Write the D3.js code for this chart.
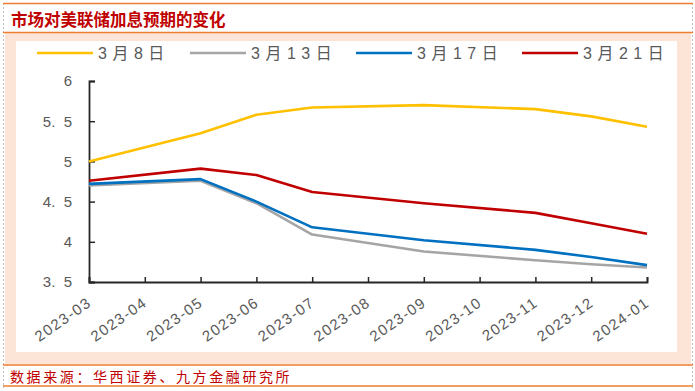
<!DOCTYPE html>
<html><head><meta charset="utf-8">
<script src="https://cdn.jsdelivr.net/npm/d3@7"></script>
<style>
html,body{margin:0;padding:0;background:#fff;}
svg{display:block;}
text{font-family:"Liberation Sans",Arial,"Noto Sans CJK SC",sans-serif;}
</style></head>
<body><svg id="c" width="695" height="391"></svg>
<script>
const categories = ["2023-03","2023-04","2023-05","2023-06","2023-07","2023-08","2023-09","2023-10","2023-11","2023-12","2024-01"];
const seriesNames = ["3月8日","3月13日","3月17日","3月21日"];
const seriesColors = ["#FFC000","#A5A5A5","#0070C0","#C00000"];
const mar8  = [5.00, null, 5.35, 5.58, 5.67, null, 5.70, null, 5.65, 5.56, 5.43];
const mar13 = [4.70, null, 4.76, 4.48, 4.09, null, 3.88, null, 3.77, 3.72, 3.68];
const mar17 = [4.72, null, 4.78, 4.50, 4.18, null, 4.02, null, 3.90, 3.81, 3.71];
const mar21 = [4.76, null, 4.91, 4.83, 4.62, null, 4.48, null, 4.36, 4.23, 4.10];
const yTicks = [3.5, 4, 4.5, 5, 5.5, 6];
const title = "市场对美联储加息预期的变化";
const source = "数据来源：华西证券、九方金融研究所";

const series = [mar8, mar13, mar17, mar21];
const svg = d3.select("#c");

// frame
svg.append("rect").attr("x",5).attr("y",33).attr("width",686).attr("height",331).attr("fill","#FCE4D6");
svg.append("rect").attr("x",16).attr("y",41).attr("width",661).attr("height",311).attr("fill","#fff");
svg.append("line").attr("x1",3.5).attr("x2",3.5).attr("y1",3).attr("y2",388).attr("stroke","#BFBFBF").attr("stroke-dasharray","2,2");
svg.append("line").attr("x1",692.5).attr("x2",692.5).attr("y1",3).attr("y2",388).attr("stroke","#BFBFBF").attr("stroke-dasharray","2,2");
[3.5,32.5,365,386].forEach(yy=>{
  svg.append("line").attr("x1",3).attr("x2",693).attr("y1",yy).attr("y2",yy).attr("stroke","#ED7D31").attr("stroke-width",1.5);
});
svg.append("text").attr("x",11).attr("y",26).attr("fill","#C00000").attr("font-size",16.5).attr("font-weight","bold")
  .style("font-family","'Noto Sans CJK SC',sans-serif").text(title);
svg.append("text").attr("x",10).attr("y",382).attr("fill","#C00000").attr("font-size",14).attr("letter-spacing",2.6)
  .style("font-family","'Noto Sans CJK SC',sans-serif").text(source);

// scales
const x = d3.scalePoint().domain(categories).range([89, 647]);
const y = d3.scaleLinear().domain([3.5, 6]).range([282, 81]);

// y axis
const ya = svg.append("g").attr("transform","translate(89,0)")
  .call(d3.axisLeft(y).tickValues(yTicks).tickSize(-6).tickPadding(17)
    .tickFormat(d => Number.isInteger(d) ? String(d) : d.toFixed(1).replace(".", ".  ")));
ya.select(".domain").attr("stroke","#262626").attr("stroke-width",1.8);
ya.selectAll(".tick line").attr("stroke","#262626").attr("stroke-width",1.5);
ya.selectAll(".tick text").attr("fill","#595959").attr("font-size",15).style("white-space","pre");

// x axis
const xa = svg.append("g").attr("transform","translate(0,282)")
  .call(d3.axisBottom(x).tickSize(-5).tickPadding(0));
xa.select(".domain").attr("stroke","#262626").attr("stroke-width",1.8);
xa.selectAll(".tick line").attr("stroke","#262626").attr("stroke-width",1.5);
xa.selectAll(".tick text").attr("fill","#595959").attr("font-size",15).attr("letter-spacing",1.4)
  .attr("text-anchor","end").attr("dy",0).attr("y",0)
  .attr("transform","translate(3,23) rotate(-35)");

// lines
const line = d3.line().x(d => x(d.c)).y(d => y(d.v));
series.forEach((s, i) => {
  const pts = categories.map((c, j) => ({c, v: s[j]})).filter(d => d.v !== null);
  svg.append("path").datum(pts).attr("d", line).attr("fill","none")
    .attr("stroke", seriesColors[i]).attr("stroke-width", 2.6).attr("stroke-linejoin","round");
});

// legend
const legX = [37, 190, 356, 522];
seriesNames.forEach((n, i) => {
  const g = svg.append("g").attr("transform", `translate(${legX[i]},53)`);
  g.append("line").attr("x1",0).attr("x2",56).attr("stroke",seriesColors[i]).attr("stroke-width",2.6);
  g.append("text").attr("x",61).attr("y",0).attr("dy","0.36em").attr("fill","#595959").attr("font-size",16)
    .attr("letter-spacing",5.5).text(n);
});
</script></body></html>
